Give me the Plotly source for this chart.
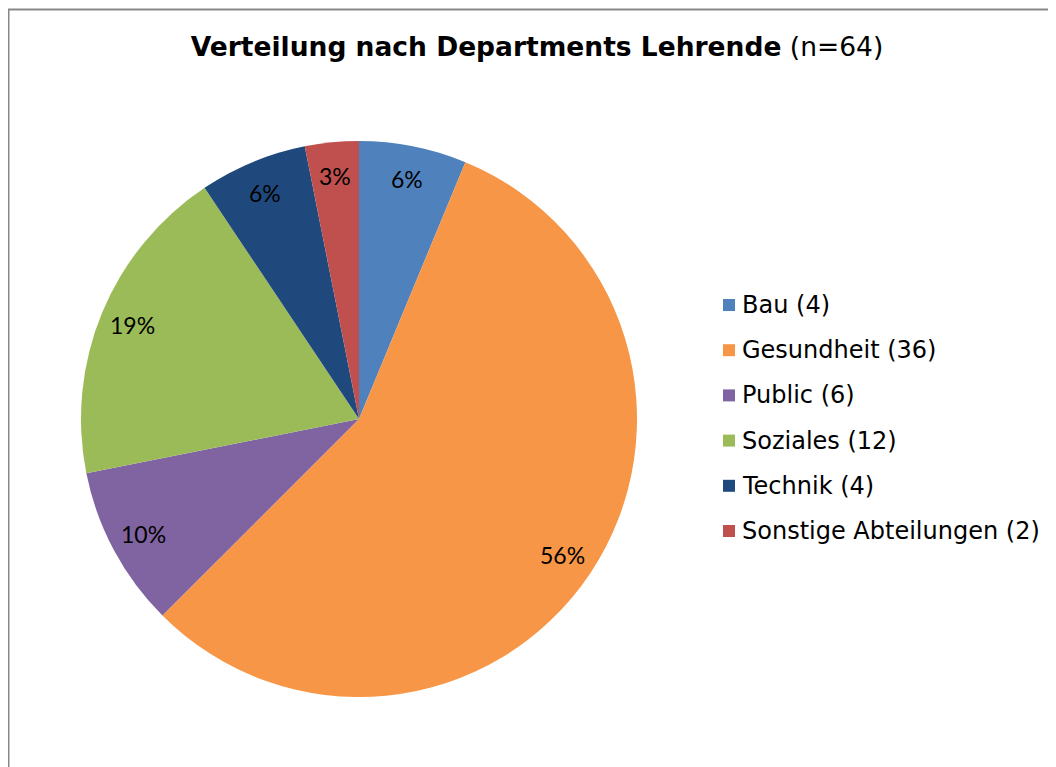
import math
import plotly.graph_objects as go

categories = ["Bau", "Gesundheit", "Public", "Soziales", "Technik", "Sonstige Abteilungen"]
counts = [4, 36, 6, 12, 4, 2]
pct_labels = ["6%", "56%", "10%", "19%", "6%", "3%"]
colors = ["#4F81BD", "#F79646", "#8064A2", "#9BBB59", "#1F497D", "#C0504D"]

W, H = 1056, 767
OFF = 8  # page body margin
cx, cy, R = 359 - OFF, 419 - OFF, 278  # pixel layout of the pie
FONT = "Verdana, DejaVu Sans, sans-serif"
LABEL_FONT = "Lato, Calibri, sans-serif"

fig = go.Figure()
fig.add_trace(go.Pie(
    labels=categories,
    values=counts,
    sort=False,
    direction="clockwise",
    rotation=0,
    marker=dict(colors=colors, line=dict(width=0)),
    textinfo="none",
    hoverinfo="label+value+percent",
    showlegend=False,
    domain=dict(x=[(cx - R) / W, (cx + R) / W], y=[1 - (cy + R) / H, 1 - (cy - R) / H]),
))

annotations = []
shapes = []
total = sum(counts)
cum = 0
for lab, v in zip(pct_labels, counts):
    mid = (cum + v / 2) / total * 2 * math.pi
    cum += v
    rr = 0.88 * R
    px = cx + rr * math.sin(mid)
    py = cy - rr * math.cos(mid)
    annotations.append(dict(x=px / W, y=1 - py / H, xref="paper", yref="paper",
                            xanchor="center", yanchor="middle",
                            text=lab, showarrow=False,
                            font=dict(family=LABEL_FONT, size=23, color="#000000")))

# legend
lx, ly0, dy = 723 - OFF, 305 - OFF, 45.2
for i, (c, v, col) in enumerate(zip(categories, counts, colors)):
    y = ly0 + i * dy
    shapes.append(dict(type="rect", xref="paper", yref="paper",
                       x0=lx / W, x1=(lx + 12) / W, y0=1 - (y + 6) / H, y1=1 - (y - 6) / H,
                       fillcolor=col, line=dict(width=0)))
    annotations.append(dict(x=(lx + 17) / W, y=1 - y / H, xref="paper", yref="paper",
                            xanchor="left", yanchor="middle",
                            text=f"{c} ({v})", showarrow=False,
                            font=dict(family=FONT, size=24, color="#000000")))

# chart border
shapes.append(dict(type="rect", xref="paper", yref="paper",
                   x0=0.5 / W, x1=1.02, y0=-0.02, y1=1 - 1.5 / H,
                   line=dict(color="#878787", width=2), fillcolor="rgba(0,0,0,0)", layer="below"))

fig.update_layout(
    width=W, height=H,
    margin=dict(l=0, r=0, t=0, b=0),
    paper_bgcolor="white",
    plot_bgcolor="white",
    title=dict(text="<b>Verteilung nach Departments Lehrende</b> (n=64)",
               x=(537 - OFF) / W, xanchor="center", y=1 - (47 - OFF) / H, yanchor="middle",
               font=dict(family=FONT, size=26.5, color="#000000")),
    annotations=annotations,
    shapes=shapes,
)

fig.write_html("out.html")
